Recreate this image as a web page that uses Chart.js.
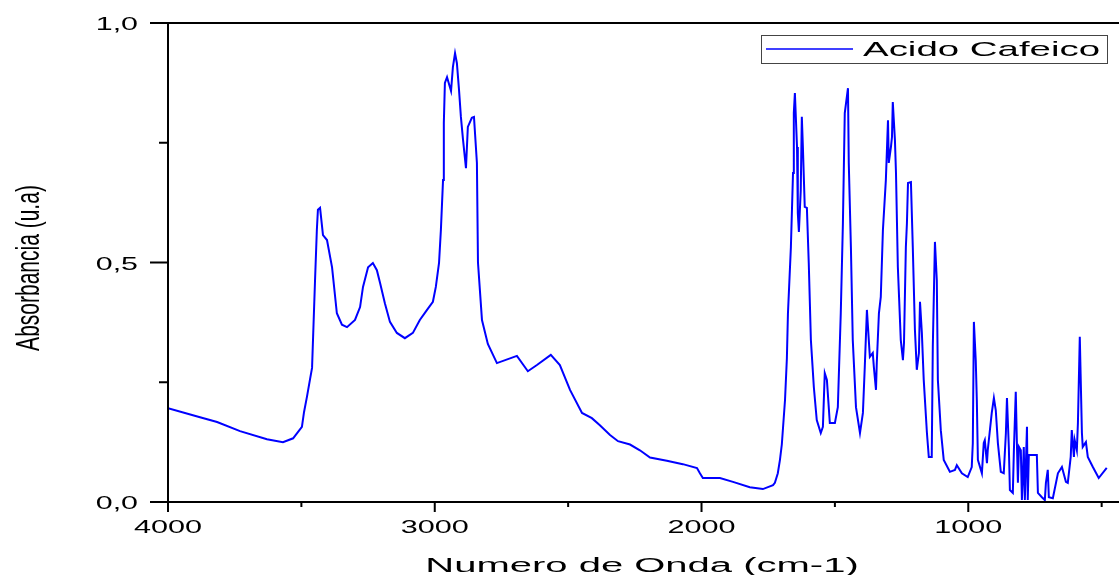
<!DOCTYPE html>
<html>
<head>
<meta charset="utf-8">
<script src="https://cdn.jsdelivr.net/npm/chart.js@4"></script>
<style>
  body { margin: 0; background: #fff; }
  #wrap { width: 1119px; height: 575px; position: relative; }
</style>
</head>
<body>
<div id="wrap"><canvas id="irChart"></canvas></div>
<script>
// Espectro IR - Acido Cafeico
const wavenumbers = [
  4000, 3880, 3816, 3730, 3629, 3569, 3531, 3498, 3490, 3479, 3468, 3460, 3449, 3442, 3438,
  3430, 3419, 3404, 3385, 3367, 3348, 3329, 3299, 3280, 3269, 3250, 3232, 3217, 3205, 3187,
  3168, 3142, 3112, 3082, 3056, 3029, 3007, 2996, 2984, 2977, 2969, 2966, 2962, 2954, 2939,
  2932, 2924, 2917, 2909, 2902, 2894, 2883, 2876, 2861, 2853, 2842, 2838, 2823, 2801, 2767,
  2692, 2651, 2617, 2565, 2531, 2493, 2448, 2411, 2381, 2343, 2313, 2268, 2231, 2193, 2130,
  2070, 2017, 2006, 1995, 1931, 1882, 1819, 1770, 1732, 1725, 1714, 1706, 1699, 1687, 1680,
  1676, 1665, 1657, 1654, 1650, 1642, 1639, 1635, 1628, 1624, 1620, 1613, 1605, 1598, 1590,
  1579, 1568, 1553, 1545, 1538, 1530, 1519, 1500, 1489, 1478, 1470, 1463, 1451, 1448, 1440,
  1433, 1421, 1406, 1395, 1388, 1380, 1376, 1369, 1358, 1354, 1346, 1343, 1335, 1328, 1320,
  1309, 1301, 1298, 1290, 1286, 1283, 1275, 1271, 1264, 1253, 1245, 1241, 1234, 1230, 1226,
  1215, 1208, 1200, 1193, 1185, 1181, 1174, 1167, 1155, 1148, 1137, 1133, 1125, 1118, 1114,
  1103, 1092, 1069, 1050, 1043, 1024, 1002, 987, 983, 979, 972, 968, 964, 949, 942,
  938, 930, 927, 912, 904, 897, 889, 878, 867, 859, 855, 848, 844, 833, 829,
  822, 818, 814, 810, 803, 799, 795, 792, 788, 780, 777, 773, 743, 739, 724,
  713, 709, 702, 698, 683, 664, 649, 634, 627, 616, 612, 604, 601, 593, 589,
  582, 574, 571, 559, 552, 533, 511, 481
];
const absorbance = [
  0.196, 0.177, 0.167, 0.148, 0.131, 0.125, 0.133, 0.157, 0.188, 0.220, 0.255, 0.280, 0.460, 0.568, 0.610,
  0.614, 0.557, 0.547, 0.490, 0.394, 0.370, 0.365, 0.380, 0.407, 0.449, 0.490, 0.499, 0.484, 0.457, 0.415,
  0.376, 0.353, 0.342, 0.353, 0.380, 0.401, 0.418, 0.449, 0.499, 0.568, 0.672, 0.791, 0.875, 0.887, 0.858,
  0.908, 0.937, 0.916, 0.860, 0.804, 0.756, 0.697, 0.783, 0.802, 0.804, 0.708, 0.500, 0.380, 0.330, 0.290,
  0.305, 0.273, 0.286, 0.307, 0.286, 0.234, 0.186, 0.175, 0.160, 0.140, 0.127, 0.120, 0.108, 0.093, 0.086,
  0.079, 0.071, 0.060, 0.050, 0.050, 0.042, 0.031, 0.027, 0.035, 0.040, 0.060, 0.088, 0.120, 0.213, 0.300,
  0.394, 0.532, 0.687, 0.812, 0.854, 0.741, 0.603, 0.564, 0.651, 0.804, 0.741, 0.616, 0.614, 0.499, 0.338,
  0.240, 0.171, 0.144, 0.157, 0.269, 0.255, 0.165, 0.165, 0.198, 0.394, 0.582, 0.812, 0.864, 0.708, 0.532,
  0.338, 0.198, 0.144, 0.186, 0.282, 0.401, 0.365, 0.303, 0.311, 0.282, 0.234, 0.290, 0.394, 0.428, 0.568,
  0.672, 0.797, 0.708, 0.741, 0.762, 0.835, 0.756, 0.687, 0.490, 0.338, 0.296, 0.332, 0.532, 0.582, 0.666,
  0.668, 0.532, 0.359, 0.276, 0.311, 0.418, 0.353, 0.255, 0.144, 0.094, 0.094, 0.324, 0.543, 0.463, 0.255,
  0.150, 0.088, 0.063, 0.067, 0.077, 0.060, 0.052, 0.073, 0.123, 0.376, 0.296, 0.213, 0.088, 0.060, 0.123,
  0.129, 0.081, 0.108, 0.186, 0.217, 0.192, 0.123, 0.063, 0.060, 0.144, 0.217, 0.115, 0.025, 0.019, 0.108,
  0.230, 0.129, 0.040, 0.115, 0.108, 0.004, 0.060, 0.115, 0.004, 0.157, 0.004, 0.098, 0.098, 0.019, 0.010,
  0.004, 0.040, 0.067, 0.010, 0.008, 0.060, 0.073, 0.042, 0.040, 0.094, 0.150, 0.094, 0.129, 0.108, 0.165,
  0.345, 0.144, 0.115, 0.125, 0.094, 0.073, 0.050, 0.071
];

const xMajorTicks = [4000, 3000, 2000, 1000];
const xMinorTicks = [3500, 2500, 1500, 500];
const yMajorTicks = [0, 0.5, 1.0];
const yMinorTicks = [0.25, 0.75];
const yTickLabels = ['0,0', '0,5', '1,0'];
const seriesName = 'Acido Cafeico';
const xTitle = 'Numero de Onda (cm-1)';
const yTitle = 'Absorbancia (u.a)';

const FONT = '"Liberation Sans", Arial, sans-serif';

// texto estirado horizontalmente (como en la figura original de Origin)
function stretchText(ctx, text, x, y, sx, align) {
    ctx.save();
    ctx.translate(x, y);
    ctx.scale(sx, 1);
    ctx.textAlign = align;
    ctx.textBaseline = 'alphabetic';
    ctx.fillText(text, 0, 0);
    ctx.restore();
}

const originFrame = {
    id: 'originFrame',
    afterDraw(chart) {
        const { ctx, chartArea: a, scales } = chart;
        const xs = scales.x, ys = scales.y;
        ctx.save();
        ctx.strokeStyle = '#000';
        ctx.lineWidth = 2;
        ctx.beginPath();
        // ejes
        ctx.moveTo(a.left, a.top); ctx.lineTo(a.left, a.bottom);
        ctx.moveTo(a.left - 18, a.bottom); ctx.lineTo(a.right, a.bottom);
        ctx.moveTo(a.left - 18, a.top); ctx.lineTo(a.right, a.top);
        yMajorTicks.forEach(v => { const p = ys.getPixelForValue(v); ctx.moveTo(a.left - 18, p); ctx.lineTo(a.left, p); });
        yMinorTicks.forEach(v => { const p = ys.getPixelForValue(v); ctx.moveTo(a.left - 9, p); ctx.lineTo(a.left, p); });
        xMajorTicks.forEach(v => { const p = xs.getPixelForValue(v); ctx.moveTo(p, a.bottom); ctx.lineTo(p, a.bottom + 10); });
        xMinorTicks.forEach(v => { const p = xs.getPixelForValue(v); ctx.moveTo(p, a.bottom); ctx.lineTo(p, a.bottom + 5); });
        ctx.stroke();

        ctx.fillStyle = '#000';
        ctx.font = '19px ' + FONT;
        yMajorTicks.forEach((v, i) => {
            stretchText(ctx, yTickLabels[i], a.left - 30, ys.getPixelForValue(v) + 7, 1.6, 'right');
        });
        ctx.font = '18px ' + FONT;
        xMajorTicks.forEach(v => {
            stretchText(ctx, String(v), xs.getPixelForValue(v), a.bottom + 31, 1.7, 'center');
        });

        ctx.font = '20px ' + FONT;
        stretchText(ctx, xTitle, 642, 572, 2.0, 'center');

        ctx.save();
        ctx.font = '21px ' + FONT;
        ctx.translate(39, 268);
        ctx.rotate(-Math.PI / 2);
        ctx.scale(1, 1.6);
        ctx.textAlign = 'center';
        ctx.fillText(yTitle, 0, 0);
        ctx.restore();

        // leyenda
        ctx.strokeStyle = '#444';
        ctx.lineWidth = 1;
        ctx.strokeRect(761.5, 35.5, 346, 28);
        ctx.strokeStyle = '#0000ff';
        ctx.lineWidth = 1.5;
        ctx.beginPath();
        ctx.moveTo(766, 49); ctx.lineTo(853, 49);
        ctx.stroke();
        ctx.font = '21px ' + FONT;
        stretchText(ctx, seriesName, 863, 56, 1.83, 'left');
        ctx.restore();
    }
};

document.addEventListener('DOMContentLoaded', () => {
    const ctx = document.getElementById('irChart');
    new Chart(ctx, {
        type: 'line',
        data: {
            datasets: [{
                label: seriesName,
                data: wavenumbers.map((w, i) => ({ x: w, y: absorbance[i] })),
                borderColor: '#0000ff',
                borderWidth: 2,
                pointRadius: 0,
                tension: 0,
                fill: false
            }]
        },
        options: {
            responsive: true,
            maintainAspectRatio: false,
            animation: false,
            layout: { padding: { left: 168, top: 23, right: 0, bottom: 73 } },
            plugins: {
                legend: { display: false },
                tooltip: { enabled: false }
            },
            scales: {
                x: { type: 'linear', display: false, reverse: true, min: 435, max: 4000 },
                y: { type: 'linear', display: false, min: 0, max: 1.0 }
            }
        },
        plugins: [originFrame]
    });
});
</script>
</body>
</html>
